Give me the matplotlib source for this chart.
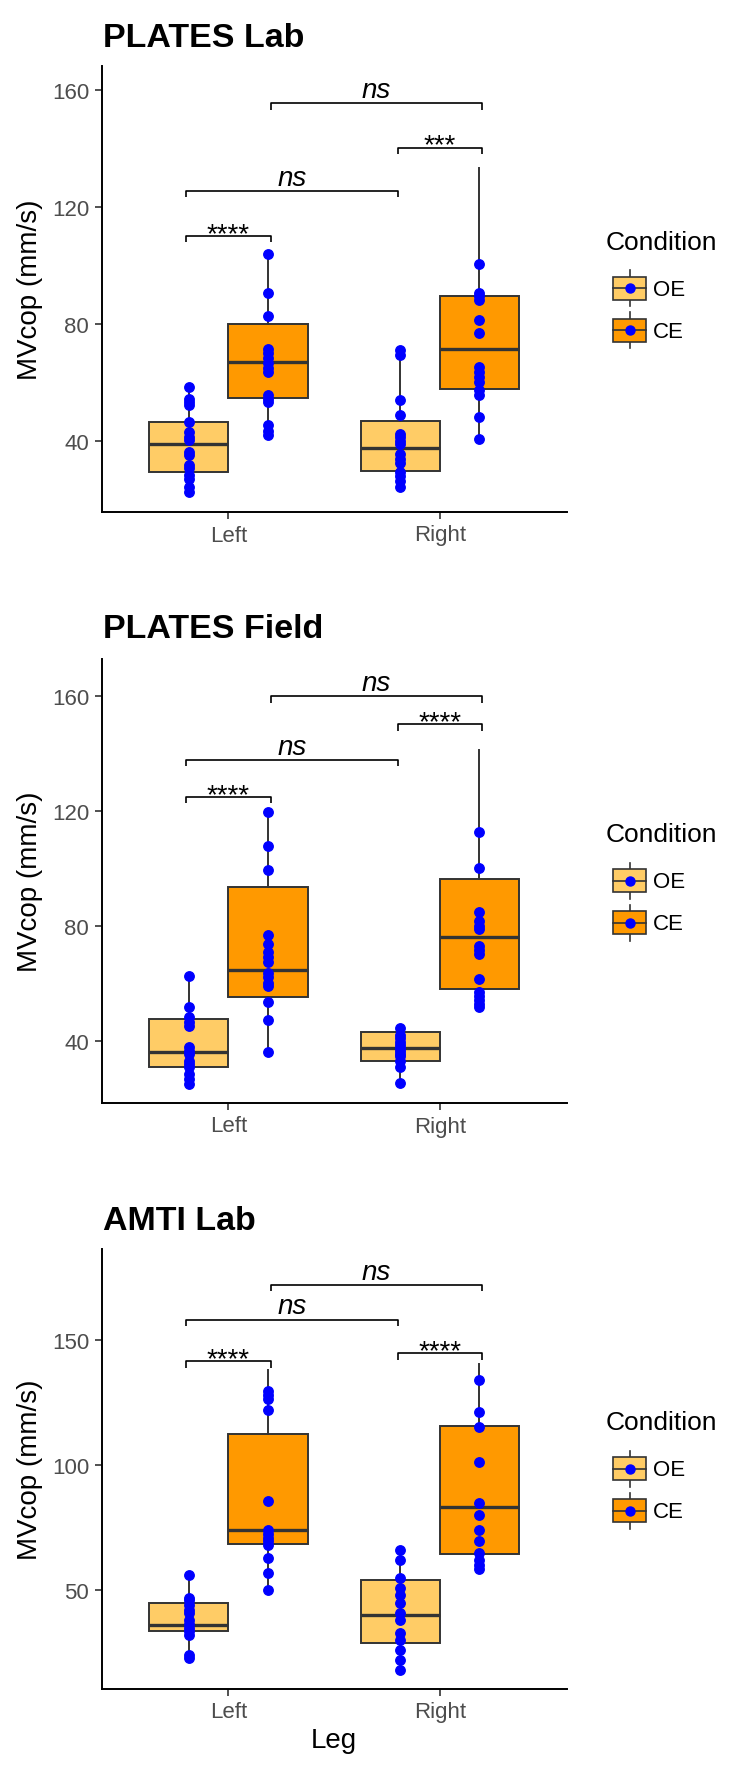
import matplotlib
matplotlib.use("Agg")
import matplotlib.pyplot as plt
from matplotlib.legend_handler import HandlerBase
from matplotlib.patches import Rectangle, Patch
from matplotlib.lines import Line2D

plt.rcParams['font.family'] = ['Liberation Sans', 'DejaVu Sans']

# ---------------- data ----------------
titles = ["PLATES Lab", "PLATES Field", "AMTI Lab"]
legs = ["Left", "Right"]
conditions = ["OE", "CE"]

# points (blue dots), per panel: OE-Left, CE-Left, OE-Right, CE-Right
p1_oe_left = [58.6, 54.5, 53.5, 52.3, 46.6, 43.2, 41.5, 40.5, 36.4, 35.2, 31.8, 30.7, 28.4, 27.2, 24.4, 22.7]
p1_ce_left = [103.8, 90.8, 82.7, 71.5, 70.0, 68.5, 66.8, 65.0, 63.7, 55.7, 54.5, 53.5, 45.5, 43.5, 42.2]
p1_oe_right = [71.0, 69.5, 54.0, 48.9, 42.6, 41.5, 40.0, 39.0, 35.5, 34.0, 32.4, 29.5, 28.0, 26.5, 24.4]
p1_ce_right = [100.5, 90.5, 89.5, 88.2, 81.4, 76.8, 65.4, 63.5, 62.0, 60.3, 57.4, 55.7, 48.1, 40.6]

p2_oe_left = [62.6, 51.6, 48.1, 46.5, 45.2, 37.7, 36.5, 35.4, 33.0, 31.8, 30.7, 28.4, 26.5, 24.9]
p2_ce_left = [119.7, 107.8, 99.5, 76.8, 73.5, 70.7, 69.0, 67.2, 63.5, 62.0, 60.0, 59.1, 53.3, 47.2, 35.9]
p2_oe_right = [44.3, 42.0, 40.8, 39.5, 38.5, 37.4, 36.5, 35.5, 34.5, 33.0, 30.7, 25.3]
p2_ce_right = [112.5, 100.1, 84.6, 81.7, 80.0, 78.8, 73.0, 71.5, 70.1, 61.4, 57.0, 55.5, 54.0, 52.8, 51.6]

p3_oe_left = [56, 47, 46, 44, 42, 41, 38, 36.5, 35, 33.5, 32, 24, 23]
p3_ce_left = [129.7, 128, 126.4, 122.1, 85.5, 74, 72.5, 71, 69.5, 68, 63, 57, 50]
p3_oe_right = [66, 62, 55, 51, 48, 45, 41, 38, 33, 30, 26, 22, 18]
p3_ce_right = [134, 121.3, 115.1, 101.3, 85, 80, 74, 69.5, 65, 62, 60, 58.5]

# box statistics: (q1, median, q3, whisker low, whisker high)
p1_box = [(29.5, 39.0, 46.4, 22.7, 58.6), (54.6, 67.1, 80.0, 42.2, 103.8),
          (29.7, 37.7, 47.0, 24.4, 71.0), (57.8, 71.5, 89.7, 40.6, 133.2)]
p2_box = [(30.7, 36.2, 47.4, 24.9, 62.6), (55.3, 64.7, 93.6, 35.9, 119.7),
          (33.0, 37.4, 42.9, 25.3, 44.3), (58.0, 75.9, 96.2, 51.6, 141.1)]
p3_box = [(33.5, 36.0, 45.0, 23.0, 56.0), (68.5, 74.0, 112.4, 50.0, 138.0),
          (29.0, 40.0, 54.0, 18.0, 66.0), (64.5, 83.1, 115.5, 58.5, 140.4)]

# significance brackets: (group a, group b, y, label); groups 0=OE-L,1=CE-L,2=OE-R,3=CE-R
p1_brackets = [(0, 1, 110.2, "****"), (0, 2, 125.5, "ns"), (2, 3, 140.3, "***"), (1, 3, 155.4, "ns")]
p2_brackets = [(0, 1, 124.8, "****"), (0, 2, 137.7, "ns"), (2, 3, 150.1, "****"), (1, 3, 159.9, "ns")]
p3_brackets = [(0, 1, 141.6, "****"), (0, 2, 158.1, "ns"), (2, 3, 144.7, "****"), (1, 3, 172.1, "ns")]

p1_ylim = (15.8, 168.3)
p2_ylim = (18.3, 172.8)
p3_ylim = (10.4, 186.4)
p1_yticks = [40, 80, 120, 160]
p2_yticks = [40, 80, 120, 160]
p3_yticks = [50, 100, 150]

panels = [
    dict(title=titles[0], pts=[p1_oe_left, p1_ce_left, p1_oe_right, p1_ce_right], box=p1_box,
         br=p1_brackets, ylim=p1_ylim, yticks=p1_yticks),
    dict(title=titles[1], pts=[p2_oe_left, p2_ce_left, p2_oe_right, p2_ce_right], box=p2_box,
         br=p2_brackets, ylim=p2_ylim, yticks=p2_yticks),
    dict(title=titles[2], pts=[p3_oe_left, p3_ce_left, p3_oe_right, p3_ce_right], box=p3_box,
         br=p3_brackets, ylim=p3_ylim, yticks=p3_yticks),
]

# ---------------- style / layout ----------------
W, H = 737, 1783
OE_COL = "#FFCC66"
CE_COL = "#FF9900"
EDGE = "#333333"
fill_cols = [OE_COL, CE_COL, OE_COL, CE_COL]
dodge = 0.1875
box_pos = [1 - dodge, 1 + dodge, 2 - dodge, 2 + dodge]
br_pos = [0.8, 1.2, 1.8, 2.2]

# axes pixel boxes (left, top, right, bottom)
ax_px = [(101.7, 66.7, 566.6, 513.0), (101.7, 660.0, 566.6, 1104.0), (101.7, 1250.0, 566.6, 1690.0)]
title_base = [47, 638, 1230]

fig = plt.figure(figsize=(W / 100, H / 100), dpi=100)


class BoxKeyHandler(HandlerBase):
    def create_artists(self, legend, orig_handle, xdescent, ydescent, width, height, fontsize, trans):
        fc = orig_handle.get_facecolor()
        cx = -xdescent + width / 2
        cy = -ydescent + height / 2
        bw = width * 33 / 38
        bh = height * 23 / 42
        wl = height * 18 / 42
        rect = Rectangle((cx - bw / 2, cy - bh / 2), bw, bh, facecolor=fc, edgecolor=EDGE,
                         lw=1.2, transform=trans)
        med = Line2D([cx - bw / 2, cx + bw / 2], [cy, cy], color=EDGE, lw=1.2, transform=trans)
        w1 = Line2D([cx, cx], [cy + bh / 2, cy + wl], color=EDGE, lw=1.2, transform=trans)
        w2 = Line2D([cx, cx], [cy - wl, cy - bh / 2], color=EDGE, lw=1.2, transform=trans)
        dot = Line2D([cx], [cy], marker='o', ms=6.5, color='blue', lw=0, transform=trans)
        return [w1, w2, rect, med, dot]


for i, p in enumerate(panels):
    l, t, r, b = ax_px[i]
    ax = fig.add_axes([l / W, 1 - b / H, (r - l) / W, (b - t) / H])

    stats = []
    for (q1, med, q3, lo, hi) in p['box']:
        stats.append(dict(q1=q1, med=med, q3=q3, whislo=lo, whishi=hi, fliers=[]))
    bp = ax.bxp(stats, positions=box_pos, widths=0.375, patch_artist=True,
                showcaps=False, showfliers=False,
                boxprops=dict(edgecolor=EDGE, linewidth=1.4),
                medianprops=dict(color=EDGE, linewidth=2.4),
                whiskerprops=dict(color=EDGE, linewidth=1.4),
                manage_ticks=False)
    for patch, c in zip(bp['boxes'], fill_cols):
        patch.set_facecolor(c)

    for k, vals in enumerate(p['pts']):
        ax.plot([box_pos[k]] * len(vals), vals, 'o', color='blue', ms=6.8, zorder=4, lw=0)

    # brackets
    y0, y1 = p['ylim']
    px_per_unit = (b - t) / (y1 - y0)
    tip = 6.5 / px_per_unit
    for (ga, gb, yb, lab) in p['br']:
        xa, xb = br_pos[ga], br_pos[gb]
        ax.plot([xa, xa, xb, xb], [yb - tip, yb, yb, yb - tip], color='black', lw=1.2,
                solid_capstyle='butt', zorder=5)
        if lab == "ns":
            ax.annotate(lab, xy=((xa + xb) / 2, yb), xytext=(0, 4.5), textcoords='offset points',
                        ha='center', va='baseline', fontsize=20, style='italic', color='black')
        else:
            ax.annotate(lab, xy=((xa + xb) / 2, yb), xytext=(0, -3.6), textcoords='offset points',
                        ha='center', va='baseline', fontsize=20, color='black')

    ax.set_xlim(0.4, 2.6)
    ax.set_ylim(*p['ylim'])
    ax.set_xticks([1, 2])
    ax.set_xticklabels(legs)
    ax.set_yticks(p['yticks'])
    for s in ['top', 'right']:
        ax.spines[s].set_visible(False)
    for s in ['left', 'bottom']:
        ax.spines[s].set_linewidth(1.4)
        ax.spines[s].set_color('black')
    ax.tick_params(axis='both', length=5, width=1.2, color='#333333', labelsize=16,
                   labelcolor='#4D4D4D', pad=4)

    # title
    fig.text(103 / W, 1 - title_base[i] / H, p['title'], fontsize=24.5, fontweight='bold',
             ha='left', va='baseline', color='black')
    # y label
    yc = (t + b) / 2
    fig.text(30.5 / W, 1 - yc / H, "MVcop (mm/s)", rotation=90, fontsize=20,
             ha='center', va='center', color='black')
    if i == 2:
        ax.set_xlabel("Leg", fontsize=20, labelpad=3, color='black')

    # legend
    fig.text(606 / W, 1 - (yc - 47) / H, "Condition", fontsize=19, ha='left', va='center',
             color='black')
    handles = [Patch(facecolor=OE_COL), Patch(facecolor=CE_COL)]
    leg = ax.legend(handles, conditions, loc='upper left',
                    bbox_to_anchor=(610.5 / W, 1 - (yc - 21.4) / H),
                    bbox_transform=fig.transFigure, frameon=False, fontsize=16,
                    handler_map={Patch: BoxKeyHandler()}, handlelength=1.71,
                    handleheight=2.53, labelspacing=0.0, borderpad=0, borderaxespad=0,
                    handletextpad=0.2)
    for txt in leg.get_texts():
        txt.set_color('black')

fig.savefig("out.png", dpi=100)
